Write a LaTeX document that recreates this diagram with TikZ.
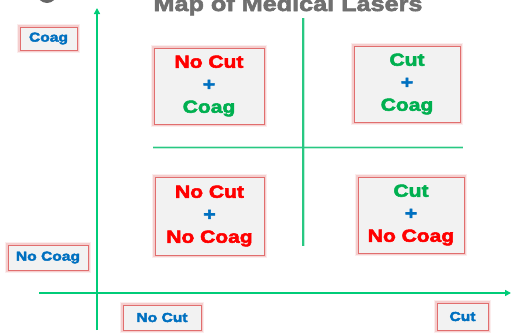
\documentclass[tikz,border=0pt]{standalone}
\usepackage{fontspec}
\setmainfont{Liberation Sans}
\newfontfamily\heavy{Liberation Sans Bold}[FakeStretch=1.2,FakeBold=3]
\usetikzlibrary{arrows.meta}
\definecolor{axisgreen}{RGB}{0,204,120}
\definecolor{gridgreen}{RGB}{40,200,130}
\definecolor{boxfill}{RGB}{242,242,242}
\definecolor{boxedge}{RGB}{225,110,110}
\definecolor{txtred}{RGB}{255,0,0}
\definecolor{txtgreen}{RGB}{0,176,80}
\definecolor{txtblue}{RGB}{0,112,192}
\definecolor{titlegray}{RGB}{112,112,112}
\tikzset{
  glowbox/.style={fill=boxfill, draw=boxedge, line width=0.9pt,
    preaction={draw=boxedge, line width=6pt, opacity=0.12},
    preaction={draw=boxedge, line width=3.5pt, opacity=0.25},
    inner sep=0pt, outer sep=0pt, align=center},
  quadbox/.style={glowbox, font=\heavy\fontsize{17.5}{22.5}\selectfont},
  axislabel/.style={glowbox, font=\heavy\fontsize{13}{15}\selectfont, text=txtblue},
  axisline/.style={draw=axisgreen, line width=1.8pt, -{Triangle[length=6pt,width=6pt]}},
  gridline/.style={draw=gridgreen, line width=1.1pt,
    preaction={draw=gridgreen, line width=3pt, opacity=0.3}}
}
\begin{document}
\begin{tikzpicture}[x=1pt, y=-1pt]
\useasboundingbox (0,0) rectangle (511,333);
\clip (0,0) rectangle (511,333);

% logo fragment and title at the top edge
\fill[gray!80!black] (47,-7) circle (10);
\node[font=\heavy\fontsize{21}{24}\selectfont, text=titlegray, anchor=base]
  (title) at (288,11) {Map of Medical Lasers};

% axes
\coordinate (yfoot) at (97,330);
\coordinate (ytip) at (97,8);
\coordinate (xfoot) at (39,293);
\coordinate (xtip) at (511,293);
\draw[axisline] (yfoot) -- (ytip);
\draw[axisline] (xfoot) -- (xtip);

% quadrant dividers
\coordinate (hl) at (153,147.5);
\coordinate (hr) at (463,147.5);
\coordinate (vt) at (303,18);
\coordinate (vb) at (303,246);
\draw[gridline] (hl) -- (hr);
\draw[gridline] (vt) -- (vb);

% quadrants
\node[quadbox, minimum width=110pt, minimum height=76pt] (ncc) at (209,86)
  {\textcolor{txtred}{No Cut}\\\textcolor{txtblue}{+}\\\textcolor{txtgreen}{Coag}};
\node[quadbox, minimum width=106pt, minimum height=76pt] (cc) at (407,84)
  {\textcolor{txtgreen}{Cut}\\\textcolor{txtblue}{+}\\\textcolor{txtgreen}{Coag}};
\node[quadbox, minimum width=109pt, minimum height=78pt] (ncnc) at (209.5,216)
  {\textcolor{txtred}{No Cut}\\\textcolor{txtblue}{+}\\\textcolor{txtred}{No Coag}};
\node[quadbox, minimum width=106pt, minimum height=76pt] (cnc) at (411,215)
  {\textcolor{txtgreen}{Cut}\\\textcolor{txtblue}{+}\\\textcolor{txtred}{No Coag}};

% axis labels
\node[axislabel, minimum width=57pt, minimum height=23pt] (coag) at (48.5,38.5) {Coag};
\node[axislabel, minimum width=80pt, minimum height=25pt] (nocoag) at (48,257.5) {No Coag};
\node[axislabel, minimum width=78pt, minimum height=25pt] (nocut) at (162,317.5) {No Cut};
\node[axislabel, minimum width=51pt, minimum height=27pt] (cut) at (462.5,316.5) {Cut};
\end{tikzpicture}
\end{document}
